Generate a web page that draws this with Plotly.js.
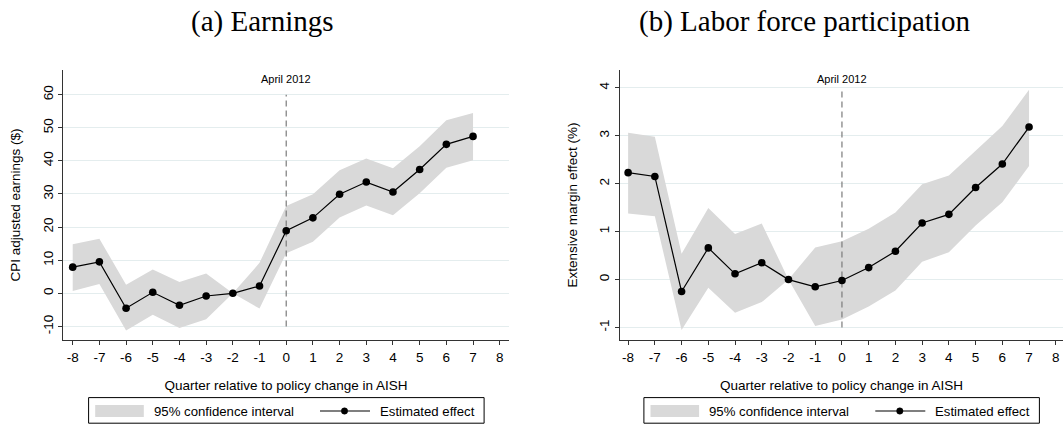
<!DOCTYPE html>
<html>
<head>
<meta charset="utf-8">
<script src="https://cdn.plot.ly/plotly-3.0.1.min.js"></script>
<style>
  html, body { margin: 0; padding: 0; background: #fff; }
  #chart { width: 1063px; height: 424px; }
</style>
</head>
<body>
<div id="chart"></div>
<script>
// Event-study estimates by quarter relative to the April 2012 AISH policy change
const quarters = [-8, -7, -6, -5, -4, -3, -2, -1, 0, 1, 2, 3, 4, 5, 6, 7];

// (a) Earnings, CPI adjusted ($)
const earnEst = [7.9, 9.5, -4.5, 0.3, -3.6, -0.8, 0, 2.2, 18.9, 22.8, 29.9, 33.6, 30.6, 37.4, 45.0, 47.4];
const earnLo  = [0.7, 2.8, -11.2, -6.5, -10.5, -7.8, 0, -4.6, 12.1, 15.6, 22.9, 26.5, 23.6, 30.2, 37.9, 40.2];
const earnHi  = [14.8, 16.5, 2.6, 7.2, 3.4, 6.0, 0, 9.2, 26.4, 29.9, 37.2, 40.7, 37.8, 44.4, 52.3, 54.5];

// (b) Labor force participation, extensive margin (%)
const lfpEst = [2.23, 2.15, -0.25, 0.66, 0.12, 0.35, 0, -0.15, -0.02, 0.25, 0.59, 1.18, 1.36, 1.92, 2.41, 3.18];
const lfpLo  = [1.38, 1.32, -1.05, -0.17, -0.69, -0.47, 0, -0.97, -0.83, -0.56, -0.23, 0.37, 0.57, 1.13, 1.61, 2.37];
const lfpHi  = [3.06, 2.98, 0.54, 1.49, 0.95, 1.17, 0, 0.67, 0.80, 1.06, 1.40, 1.99, 2.17, 2.69, 3.20, 3.96];

// Axis ticks
const xTicks = [-8, -7, -6, -5, -4, -3, -2, -1, 0, 1, 2, 3, 4, 5, 6, 7, 8];
const earnTicks = [-10, 0, 10, 20, 30, 40, 50, 60];
const lfpTicks = [-1, 0, 1, 2, 3, 4];

// Panel and label texts
const panelTitles = ['(a) Earnings', '(b) Labor force participation'];
const yTitles = ['CPI adjusted earnings ($)', 'Extensive margin effect (%)'];
const xTitle = 'Quarter relative to policy change in AISH';
const policyQuarter = 0;
const policyLabel = 'April 2012';
const ciName = '95% confidence interval';
const estName = 'Estimated effect';

const W = 1063, H = 424;
const px = v => v / W;          // horizontal pixel -> paper
const py = v => 1 - v / H;      // vertical pixel -> paper

const SANS = 'Liberation Sans, Arial, sans-serif';
const SERIF = 'Liberation Serif, Times New Roman, serif';
const BAND = '#d9d9d9';
const GRID = '#e4edee';
const AXIS = '#333333';
const TXT = 13.5;
const KEYTXT = 13.2;

function panelTraces(xa, ya, lo, hi, est, yTicks) {
  return [
    { x: quarters, y: lo, xaxis: xa, yaxis: ya, type: 'scatter', mode: 'lines',
      line: { width: 0, color: BAND }, hoverinfo: 'skip', showlegend: false },
    { x: quarters, y: hi, xaxis: xa, yaxis: ya, type: 'scatter', mode: 'lines',
      fill: 'tonexty', fillcolor: BAND, line: { width: 0, color: BAND },
      name: ciName, showlegend: false },
    { x: [policyQuarter, policyQuarter], y: [yTicks[0], yTicks[yTicks.length - 1]],
      xaxis: xa, yaxis: ya, type: 'scatter', mode: 'lines',
      line: { color: '#7a7a7a', width: 1.2, dash: '6px,4px' },
      hoverinfo: 'skip', showlegend: false },
    { x: quarters, y: est, xaxis: xa, yaxis: ya, type: 'scatter', mode: 'lines+markers',
      line: { color: '#000', width: 1.2 }, marker: { color: '#000', size: 7.6, symbol: 'circle' },
      name: estName, showlegend: false }
  ];
}

const data = [].concat(
  panelTraces('x', 'y', earnLo, earnHi, earnEst, earnTicks),
  panelTraces('x2', 'y2', lfpLo, lfpHi, lfpEst, lfpTicks)
);

const yDomain = [py(340), py(70)];

function xAxis(anchor, domain, range) {
  return {
    anchor: anchor, domain: domain, range: range, tickvals: xTicks, ticktext: xTicks.map(String),
    ticks: 'outside', ticklen: 4, tickwidth: 1, tickcolor: AXIS,
    showline: true, linecolor: AXIS, linewidth: 1.3, showgrid: false, zeroline: false,
    tickfont: { family: SANS, size: TXT, color: '#000' },
    title: { text: xTitle, font: { family: SANS, size: TXT, color: '#000' }, standoff: 17 },
    automargin: false, fixedrange: true
  };
}

function yAxis(anchor, range, ticks, title) {
  return {
    anchor: anchor, domain: yDomain, range: range, tickvals: ticks, ticktext: ticks.map(String),
    tickangle: -90, ticks: 'outside', ticklen: 4, tickwidth: 1, tickcolor: AXIS,
    showline: true, linecolor: AXIS, linewidth: 1.3,
    showgrid: true, gridcolor: GRID, gridwidth: 1, zeroline: false,
    tickfont: { family: SANS, size: TXT, color: '#000' },
    title: { text: title, font: { family: SANS, size: TXT, color: '#000' }, standoff: 16 },
    automargin: false, fixedrange: true
  };
}

// Boxed key below each panel (positions in pixels from the panel's left offset)
function keyFor(dx) {
  const shapes = [
    { type: 'rect', xref: 'paper', yref: 'paper', x0: px(88.6 + dx), x1: px(484.1 + dx),
      y0: py(423.2), y1: py(397.6), line: { color: '#000', width: 1 }, fillcolor: 'rgba(0,0,0,0)' },
    { type: 'rect', xref: 'paper', yref: 'paper', x0: px(95.2 + dx), x1: px(143.8 + dx),
      y0: py(417), y1: py(405), line: { width: 0 }, fillcolor: BAND },
    { type: 'line', xref: 'paper', yref: 'paper', x0: px(320 + dx), x1: px(370 + dx),
      y0: py(411), y1: py(411), line: { color: '#000', width: 1.2 } },
    { type: 'circle', xref: 'paper', yref: 'paper', x0: px(341.3 + dx), x1: px(347.7 + dx),
      y0: py(414.2), y1: py(407.8), line: { color: '#000', width: 0.5 }, fillcolor: '#000' }
  ];
  const notes = [
    { text: ciName, xref: 'paper', yref: 'paper', x: px(151.5 + dx), y: py(411),
      xanchor: 'left', yanchor: 'middle', showarrow: false,
      font: { family: SANS, size: KEYTXT, color: '#000' } },
    { text: estName, xref: 'paper', yref: 'paper', x: px(377.5 + dx), y: py(411),
      xanchor: 'left', yanchor: 'middle', showarrow: false,
      font: { family: SANS, size: KEYTXT, color: '#000' } }
  ];
  return { shapes, notes };
}

const keyA = keyFor(0);
const keyB = keyFor(555.3);

const layout = {
  width: W, height: H,
  margin: { l: 0, r: 0, t: 0, b: 0, autoexpand: false },
  paper_bgcolor: '#fff', plot_bgcolor: '#fff',
  showlegend: false,
  xaxis: xAxis('y', [px(63.2), px(508.8)], [-8.356, 8.34]),
  yaxis: yAxis('x', [-14.1, 67.45], earnTicks, yTitles[0]),
  xaxis2: xAxis('y2', [px(620.1), 1], [-8.30, 8.27]),
  yaxis2: yAxis('x2', [-1.26, 4.37], lfpTicks, yTitles[1]),
  shapes: keyA.shapes.concat(keyB.shapes),
  annotations: [
    { text: panelTitles[0], xref: 'paper', yref: 'paper', x: px(262), y: py(21),
      xanchor: 'center', yanchor: 'middle', showarrow: false,
      font: { family: SERIF, size: 29, color: '#000' } },
    { text: panelTitles[1], xref: 'paper', yref: 'paper', x: px(804), y: py(21),
      xanchor: 'center', yanchor: 'middle', showarrow: false,
      font: { family: SERIF, size: 29, color: '#000' } },
    { text: policyLabel, xref: 'x', yref: 'paper', x: policyQuarter, y: py(78.6),
      xanchor: 'center', yanchor: 'middle', showarrow: false,
      font: { family: SANS, size: 11, color: '#000' } },
    { text: policyLabel, xref: 'x2', yref: 'paper', x: policyQuarter, y: py(78.6),
      xanchor: 'center', yanchor: 'middle', showarrow: false,
      font: { family: SANS, size: 11, color: '#000' } }
  ].concat(keyA.notes, keyB.notes)
};

Plotly.newPlot('chart', data, layout, { staticPlot: true, displayModeBar: false });
</script>
</body>
</html>
